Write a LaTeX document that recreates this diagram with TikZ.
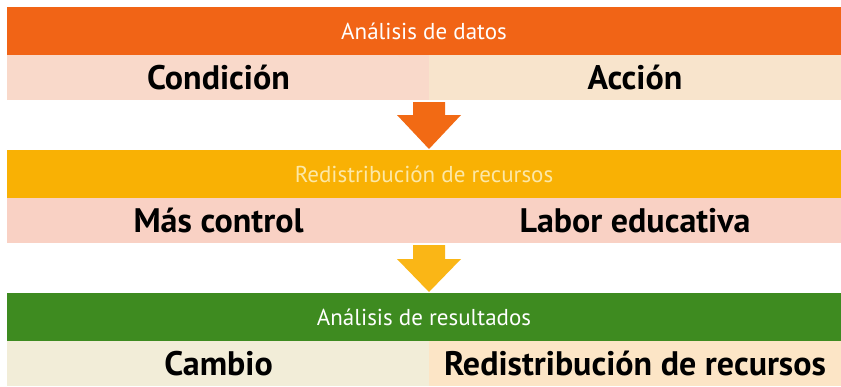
\documentclass[tikz,border=0pt]{standalone}
\usepackage{fontspec}
\setmainfont{PT Sans}
\usetikzlibrary{calc, positioning}

\definecolor{naranja}{HTML}{F16416}
\definecolor{naranjaflecha}{HTML}{F26A14}
\definecolor{amarillo}{HTML}{F9B104}
\definecolor{amarillotexto}{HTML}{FDE8A6}
\definecolor{amarilloflecha}{HTML}{FAB616}
\definecolor{verde}{HTML}{3E8B20}
\definecolor{rosa}{HTML}{F9D9CA}
\definecolor{beige}{HTML}{F8E4CC}
\definecolor{rosado}{HTML}{F9D1C4}
\definecolor{crema}{HTML}{F2EDD8}
\definecolor{melocoton}{HTML}{FCE5C6}

\begin{document}
\begin{tikzpicture}[
			x=1pt, y=-1pt,
			head/.style={minimum width=834, minimum height=48, inner sep=0, outer sep=0, anchor=north west, font=\fontsize{23}{25}\selectfont},
			cell/.style={minimum height=45, inner sep=0, outer sep=0, anchor=north west, font=\fontsize{34}{36}\selectfont\bfseries},
			]
			\useasboundingbox[fill=white] (0,0) rectangle (841,386);
			
			% Bloque 1
			\node[head, fill=naranja, text=white] (Datos) at (7,7) {Análisis de datos};
			\node[cell, fill=rosa, minimum width=423] (Condicion) at (Datos.south west) {Condición};
			\node[cell, fill=beige, minimum width=412, right=-1pt of Condicion] (Accion) {Acción};
			
			% Bloque 2
			\node[head, fill=amarillo, text=amarillotexto] (Recursos) at (7,150) {Redistribución de recursos};
			\node[cell, fill=rosado, minimum width=423] (Control) at (Recursos.south west) {Más control};
			\node[cell, fill=rosado, minimum width=412, right=-1pt of Control] (Labor) {Labor educativa};
			
			% Bloque 3
			\node[head, fill=verde, text=white] (Resultados) at (7,293) {Análisis de resultados};
			\node[cell, fill=crema, minimum width=423] (Cambio) at (Resultados.south west) {Cambio};
			\node[cell, fill=melocoton, minimum width=412, right=-1pt of Cambio] (Redistribucion) {Redistribución de recursos};
			
			% Flechas
			\coordinate (top1) at ($(Condicion.south east)+(-1,2)$);
			\coordinate (tip1) at ($(Recursos.north west)+(422,-1)$);
			\fill[naranjaflecha] ($(top1)+(-16,0)$) -- ($(top1)+(16,0)$) -- ($(top1)+(16,13)$) -- ($(top1)+(32,13)$)
			-- (tip1) -- ($(top1)+(-32,13)$) -- ($(top1)+(-16,13)$) -- cycle;
			
			\coordinate (top2) at ($(Control.south east)+(-1,2)$);
			\coordinate (tip2) at ($(Resultados.north west)+(422,-1)$);
			\fill[amarilloflecha] ($(top2)+(-16,0)$) -- ($(top2)+(16,0)$) -- ($(top2)+(16,14)$) -- ($(top2)+(32,14)$)
			-- (tip2) -- ($(top2)+(-32,14)$) -- ($(top2)+(-16,14)$) -- cycle;
			
		\end{tikzpicture}
\end{document}
